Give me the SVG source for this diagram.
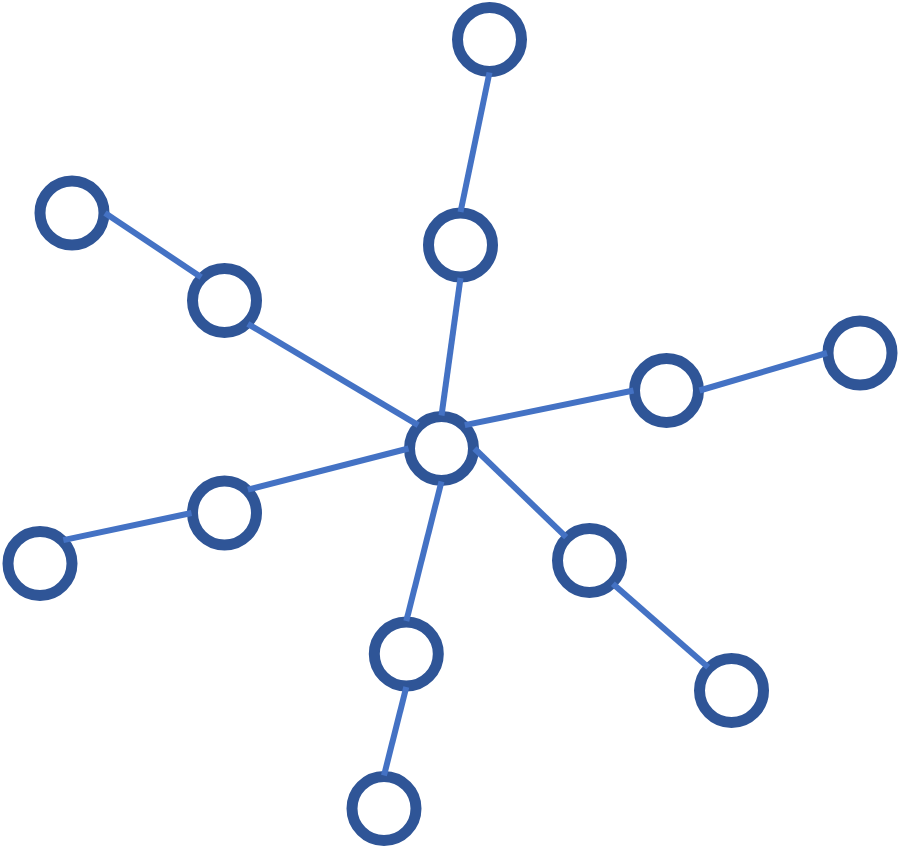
<svg xmlns="http://www.w3.org/2000/svg" width="898" height="847" viewBox="0 0 898 847">
<style>
.node{fill:#FFFFFF;stroke:#2F5597;stroke-width:11}
.edge{stroke:#4472C4;stroke-width:6;stroke-linecap:butt;fill:none}
</style>
<rect width="898" height="847" fill="#FFFFFF"/>
<g id="nodes">
<g id="n-center"><circle class="node" cx="441.5" cy="448.5" r="32"/></g>
<g id="n-t1"><circle class="node" cx="460.5" cy="245" r="32"/></g>
<g id="n-t2"><circle class="node" cx="489.5" cy="39.5" r="32"/></g>
<g id="n-l1"><circle class="node" cx="224.5" cy="300.5" r="32"/></g>
<g id="n-l2"><circle class="node" cx="72" cy="213" r="32"/></g>
<g id="n-r1"><circle class="node" cx="666.5" cy="390.5" r="32"/></g>
<g id="n-r2"><circle class="node" cx="860" cy="353" r="32"/></g>
<g id="n-ll1"><circle class="node" cx="224.5" cy="513" r="32"/></g>
<g id="n-ll2"><circle class="node" cx="40" cy="563.5" r="32"/></g>
<g id="n-lr1"><circle class="node" cx="589.5" cy="560.5" r="32"/></g>
<g id="n-lr2"><circle class="node" cx="731.5" cy="690.5" r="32"/></g>
<g id="n-b1"><circle class="node" cx="406.3" cy="654" r="32"/></g>
<g id="n-b2"><circle class="node" cx="384" cy="808.5" r="32"/></g>
</g>
<g id="connectors">
<line class="edge" x1="441.5" y1="415.5" x2="460.5" y2="278"/>
<line class="edge" x1="460.5" y1="212" x2="489.5" y2="72.5"/>
<line class="edge" x1="418.17" y1="425.17" x2="247.83" y2="323.83"/>
<line class="edge" x1="201.17" y1="277.17" x2="105" y2="213"/>
<line class="edge" x1="464.83" y1="425.17" x2="633.5" y2="390.5"/>
<line class="edge" x1="699.5" y1="390.5" x2="827" y2="353"/>
<line class="edge" x1="408.5" y1="448.5" x2="247.83" y2="489.67"/>
<line class="edge" x1="191.5" y1="513" x2="63.33" y2="540.17"/>
<line class="edge" x1="474.5" y1="448.5" x2="566.17" y2="537.17"/>
<line class="edge" x1="612.83" y1="583.83" x2="708.17" y2="667.17"/>
<line class="edge" x1="441.5" y1="481.5" x2="406.3" y2="621"/>
<line class="edge" x1="406.3" y1="687" x2="384" y2="775.5"/>
</g>
</svg>
